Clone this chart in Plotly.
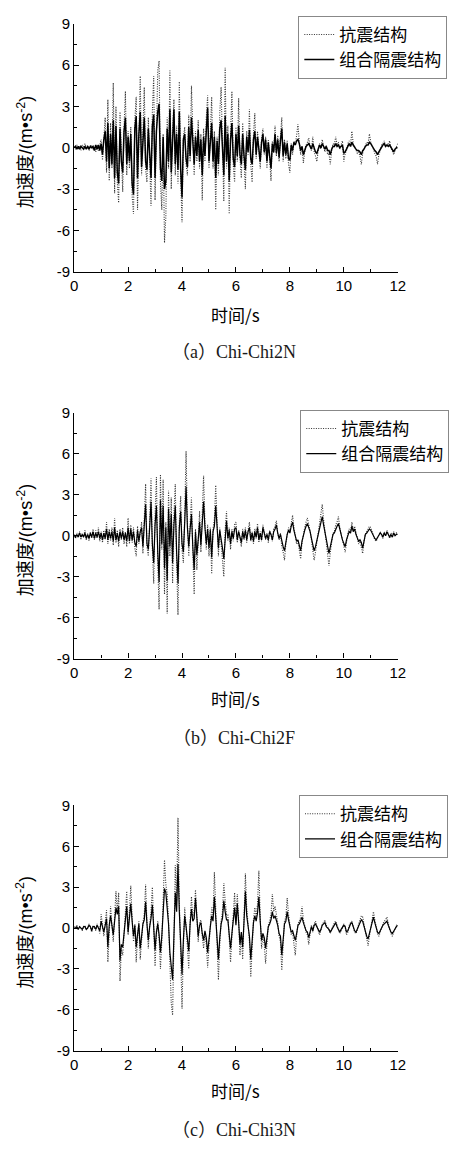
import plotly.graph_objects as go

DT = 0.05  # sampling step of the digitised records (s)

# ---------------- panel (a) Chi-Chi2N ----------------
a_aseismic = [
 0.1,-0.1,0.2,-0.1,0.1,-0.2,0.2,0.0,0.3,-0.1,0.2,-0.2,0.1,0.2,-0.1,0.1,-0.3,0.2,-0.2,0.3,
 0.6,-0.9,1.0,2.2,-1.8,3.5,-2.4,1.8,-1.5,4.7,-3.3,3.0,-2.5,-4.0,2.6,-1.2,-3.2,1.5,4.1,-2.0,
 1.2,-1.5,1.5,-3.5,-4.8,2.0,3.7,-4.5,1.5,5.2,-2.0,1.0,4.4,-1.6,-2.5,2.2,-1.4,-4.2,2.6,5.2,
 -3.8,2.0,5.6,6.3,-2.5,-4.5,1.0,-6.9,-5.0,2.2,-1.5,5.6,-3.0,1.2,3.5,-2.0,1.6,-2.6,4.8,-2.2,
 -5.4,0.8,1.5,-1.2,-2.0,2.4,-1.0,4.5,0.6,-2.0,1.2,-1.0,2.0,-1.5,1.0,-3.8,1.4,-1.0,2.2,3.8,
 -1.5,1.0,3.7,-1.5,1.2,-4.5,0.8,-2.0,2.5,4.4,-1.0,-3.9,5.8,-1.5,1.6,-4.8,1.0,4.1,-1.2,-2.5,
 1.5,-1.0,3.6,-0.8,-2.2,1.8,-1.0,-3.0,1.2,-0.5,2.8,-1.2,-2.5,1.0,2.5,-0.8,1.2,-0.6,-1.5,0.6,
 1.4,-0.5,0.8,-1.5,0.6,-0.8,-2.4,0.5,-0.4,1.6,-0.6,0.9,-1.0,0.8,2.2,-1.0,0.6,-0.8,0.5,-1.2,
 -1.8,0.3,-0.5,0.5,0.2,0.9,1.7,0.4,-0.5,0.1,-1.1,-0.3,0.2,0.4,0.7,0.1,-0.2,0.8,-0.3,-0.6,
 -1.0,-0.2,0.3,-0.1,0.6,0.1,-0.3,0.2,-0.5,-0.4,-1.2,-0.2,0.3,0.2,0.8,0.2,0.4,-0.1,0.2,0.5,
 -1.0,-0.4,-0.2,0.3,0.5,0.2,1.2,0.3,0.1,-0.2,-0.4,-0.3,-0.6,-1.2,-0.4,-0.1,0.2,0.4,0.3,1.0,
 0.4,0.2,-0.1,-0.4,-0.6,-1.2,-0.5,-0.2,0.2,0.3,0.5,0.1,0.3,0.2,0.5,0.0,-0.3,-0.5,-0.2,0.1,
 0.3]
a_isolated = [
 0.0,0.1,-0.1,0.1,-0.1,0.1,0.0,-0.1,0.1,-0.1,0.1,-0.1,0.1,0.0,0.1,-0.2,0.2,-0.1,0.2,-0.2,
 0.3,-0.5,0.6,1.2,-1.0,1.8,-1.5,1.0,-1.2,2.0,-2.2,1.6,-1.8,-2.6,1.4,-1.0,-1.8,1.2,2.2,-1.2,
 0.8,-1.0,1.0,-2.6,-3.4,1.4,2.3,-2.2,1.0,2.6,-1.4,0.8,2.2,-1.0,-1.6,1.4,-1.0,-2.2,1.6,2.4,
 -2.2,1.2,2.6,3.2,-1.5,-2.4,0.8,-3.0,-2.4,1.4,-1.0,2.8,-1.8,0.8,2.8,-1.2,1.0,-1.6,2.6,-1.6,
 -3.6,0.6,1.0,-0.8,-1.4,1.5,-0.6,2.2,0.4,-1.2,0.8,-0.6,1.3,-1.0,0.6,-2.0,0.8,-0.6,1.2,2.9,
 -1.0,0.6,1.8,-1.0,0.8,-2.2,0.5,-1.2,1.4,2.0,-0.6,-2.0,2.3,-1.0,1.0,-2.4,0.6,1.8,-0.8,-1.4,
 1.0,-0.6,1.6,-0.5,-1.2,1.0,-0.6,-1.6,0.8,-0.3,1.3,-0.8,-1.2,0.6,1.2,-0.5,0.8,-0.4,-1.0,0.4,
 1.0,-0.3,0.6,-1.0,0.4,-0.6,-1.5,0.3,-0.3,1.0,-0.4,0.6,-0.7,0.5,1.4,-0.6,0.4,-0.5,0.3,-0.8,
 -0.9,0.2,-0.2,0.4,0.2,0.5,0.6,0.3,-0.2,0.1,-0.5,-0.2,0.1,0.2,0.3,0.1,-0.1,0.3,-0.1,-0.3,
 -0.4,-0.1,0.2,0.0,0.3,0.1,-0.1,0.1,-0.2,-0.2,-0.5,-0.1,0.1,0.1,0.3,0.1,0.2,0.0,0.1,0.2,
 -0.4,-0.3,-0.1,0.1,0.3,0.1,0.4,0.2,0.0,-0.1,-0.2,-0.2,-0.3,-0.5,-0.2,-0.1,0.1,0.2,0.2,0.4,
 0.3,0.1,0.0,-0.2,-0.3,-0.5,-0.3,-0.1,0.1,0.2,0.3,0.1,0.2,0.1,0.2,0.0,-0.2,-0.3,-0.1,0.0,
 0.0]

# ---------------- panel (b) Chi-Chi2F ----------------
b_aseismic = [
 0.1,-0.2,0.2,-0.1,0.3,-0.3,0.2,-0.1,0.4,-0.3,0.2,-0.4,0.3,-0.2,0.5,-0.3,0.4,-0.2,0.6,-0.4,
 0.3,-0.5,0.4,-0.3,1.0,-0.6,0.5,-0.4,0.6,-0.7,1.3,-0.5,0.4,-0.8,0.5,-0.3,0.6,-0.6,0.3,-0.8,
 1.3,-0.6,0.8,-0.5,0.6,-0.9,-1.5,0.7,-0.6,0.4,1.0,-1.3,1.2,3.8,-0.8,-1.5,1.0,4.2,-1.0,-3.5,
 1.5,4.3,-2.0,-5.4,4.5,-1.0,4.1,-4.3,1.0,-5.7,3.3,-1.5,2.8,-3.5,1.5,3.8,-2.0,-5.8,1.0,2.9,
 -1.0,-2.0,1.5,6.2,1.0,-1.5,0.8,2.8,-1.2,-4.3,0.5,-2.5,-0.5,1.8,-1.2,1.5,4.4,1.0,-1.0,0.8,
 -1.5,0.6,-2.8,0.5,1.2,3.7,0.4,-1.5,0.6,-0.8,-1.5,-3.0,0.4,1.8,-0.4,0.6,-1.0,0.5,-0.4,0.8,
 1.0,-0.5,0.4,-0.3,-0.8,0.5,-0.3,0.6,-0.5,0.4,1.0,-0.4,0.3,-0.6,0.5,-0.2,0.9,-0.5,0.3,-0.4,
 0.8,0.3,-0.3,0.2,-0.5,0.4,0.1,-0.4,0.5,0.7,1.1,0.2,-0.3,0.2,-0.8,-1.2,-1.8,-0.6,0.2,0.6,
 0.3,1.0,1.5,0.6,-0.2,-0.6,-0.4,-1.0,-1.7,-0.5,0.2,0.6,1.0,1.3,0.8,0.4,-0.3,-1.0,-1.8,-1.2,
 -0.6,0.2,0.9,1.6,2.3,1.2,0.4,-0.5,-1.3,-2.2,-1.2,-0.4,0.2,0.3,0.8,1.0,1.4,0.6,0.1,-0.4,
 -0.8,-1.2,-0.5,0.2,0.5,0.3,1.0,0.4,0.7,0.2,-0.3,-0.6,-0.4,-0.8,-1.3,-0.4,0.1,0.3,0.5,0.7,
 0.6,0.3,-0.1,-0.3,-0.4,-0.2,0.1,0.3,0.1,-0.2,0.3,0.0,0.4,0.1,-0.2,0.2,-0.1,0.3,0.0,0.2,
 0.1]
b_isolated = [
 0.0,-0.1,0.1,-0.1,0.2,-0.1,0.1,-0.1,0.2,-0.2,0.1,-0.2,0.2,-0.1,0.3,-0.2,0.2,-0.1,0.3,-0.2,
 0.2,-0.3,0.2,-0.2,0.5,-0.3,0.3,-0.2,0.3,-0.4,0.6,-0.3,0.2,-0.4,0.3,-0.2,0.3,-0.3,0.2,-0.4,
 0.6,-0.4,0.5,-0.3,0.3,-0.5,-0.8,0.4,-0.4,0.3,0.6,-0.8,0.8,2.3,-0.6,-1.0,0.6,2.5,-0.6,-2.0,
 0.8,2.2,-1.2,-3.4,2.6,-0.6,2.2,-2.4,0.6,-3.3,2.0,-0.8,1.6,-2.0,0.8,2.2,-1.2,-3.5,0.6,1.8,
 -0.6,-1.2,1.0,3.6,0.6,-0.8,0.5,1.6,-0.8,-2.5,0.3,-1.4,-0.3,1.0,-0.7,0.9,2.5,0.6,-0.6,0.5,
 -0.9,0.4,-1.6,0.3,0.7,2.2,0.2,-0.9,0.4,-0.5,-0.9,-1.7,0.2,1.1,-0.2,0.4,-0.6,0.3,-0.2,0.5,
 0.6,-0.3,0.3,-0.2,-0.5,0.3,-0.2,0.4,-0.3,0.3,0.6,-0.3,0.2,-0.4,0.3,-0.1,0.6,-0.3,0.2,-0.3,
 0.6,0.2,-0.2,0.1,-0.3,0.3,0.1,-0.3,0.3,0.5,0.8,0.2,-0.2,0.1,-0.5,-0.8,-1.1,-0.4,0.1,0.4,
 0.2,0.7,1.0,0.4,-0.1,-0.4,-0.3,-0.7,-1.1,-0.4,0.1,0.4,0.7,0.9,0.6,0.3,-0.2,-0.7,-1.1,-0.8,
 -0.4,0.1,0.6,1.0,1.4,0.8,0.3,-0.3,-0.8,-1.3,-0.8,-0.3,0.1,0.2,0.5,0.7,0.9,0.4,0.1,-0.3,
 -0.5,-0.8,-0.3,0.1,0.3,0.2,0.7,0.3,0.5,0.1,-0.2,-0.4,-0.3,-0.5,-0.9,-0.3,0.1,0.2,0.4,0.5,
 0.4,0.2,-0.1,-0.2,-0.3,-0.1,0.1,0.2,0.1,-0.1,0.2,0.0,0.3,0.1,-0.1,0.1,-0.1,0.2,0.0,0.1,
 0.1]

# ---------------- panel (c) Chi-Chi3N ----------------
c_aseismic = [
 0.1,0.0,0.2,-0.1,0.1,0.0,-0.2,0.1,0.2,-0.1,0.0,0.3,0.1,-0.3,0.2,0.1,-0.2,0.3,0.0,-0.4,
 1.0,0.2,-0.6,0.4,1.3,-2.5,0.3,1.6,0.2,-1.0,0.8,2.7,1.2,2.6,-3.9,-1.5,-2.0,-0.5,1.0,2.7,
 -0.5,1.2,3.1,0.8,-1.0,0.3,-2.5,-0.8,0.5,-2.3,-0.6,0.4,1.0,3.2,0.4,-1.5,0.2,1.2,3.0,0.6,
 -2.8,-0.5,0.5,-0.8,-3.0,-1.0,1.5,5.0,3.2,2.5,0.5,-3.0,-5.5,-6.4,-1.0,4.6,2.0,8.1,2.0,-1.5,
 -5.9,-1.5,1.5,0.2,-1.2,-3.0,0.5,2.3,0.8,1.2,2.8,0.8,-1.0,0.4,0.6,-0.6,-1.5,-0.4,-1.2,-2.9,
 -1.0,0.2,1.5,0.8,4.1,1.0,-1.0,-3.8,-1.2,0.5,1.2,3.3,2.0,1.0,1.0,-0.8,-2.5,-0.6,1.0,2.6,
 0.4,2.5,0.6,-2.0,-0.5,-2.3,0.8,4.0,1.5,0.5,-1.0,-3.6,-1.2,0.6,1.5,0.8,1.8,4.2,0.8,-1.5,
 -0.6,-1.2,-2.6,-0.8,0.2,0.5,1.0,2.5,1.2,1.6,1.0,0.4,-0.6,-1.0,-3.1,-1.0,0.5,0.8,2.2,1.0,
 0.4,-0.5,-0.3,-1.0,-2.0,-0.6,0.3,0.5,0.8,1.6,0.6,0.2,-0.3,-0.5,-1.2,-0.4,0.2,-0.3,0.3,0.5,
 0.2,-0.2,-0.5,-0.2,0.3,0.4,0.6,0.2,0.1,-0.2,-0.4,-0.1,0.2,0.4,0.5,0.2,-0.2,-0.4,-0.2,0.1,
 0.3,0.1,-0.5,-0.3,0.2,0.4,0.5,0.1,-0.3,-0.4,-0.2,0.3,0.6,0.9,0.8,0.2,-0.4,-0.9,-1.3,-0.6,
 0.1,0.5,1.2,0.6,0.0,-0.4,-0.6,-0.3,0.1,0.3,0.5,0.6,0.8,0.3,-0.1,-0.4,-0.6,-0.3,0.0,0.2,
 0.3]
c_isolated = [
 0.0,0.0,0.1,-0.1,0.1,0.0,-0.1,0.1,0.1,-0.1,0.0,0.2,0.1,-0.2,0.1,0.1,-0.1,0.2,0.0,-0.2,
 0.5,0.1,-0.3,0.2,0.7,-1.4,0.2,0.9,0.1,-0.5,0.5,1.5,1.0,1.6,-2.4,-1.2,-1.4,-0.3,0.6,1.6,
 -0.3,0.8,1.8,0.5,-0.6,0.2,-1.4,-0.5,0.3,-1.5,-0.4,0.3,0.6,1.9,0.3,-0.9,0.1,0.7,1.7,0.4,
 -1.6,-0.3,0.3,-0.5,-1.8,-0.6,0.9,2.9,2.6,1.5,0.3,-1.8,-3.0,-3.8,-0.6,2.6,1.2,4.7,1.2,-0.9,
 -3.4,-0.9,0.9,0.1,-0.7,-1.7,0.3,1.4,0.5,0.7,2.2,0.5,-0.6,0.2,0.4,-0.4,-0.9,-0.2,-0.7,-1.8,
 -0.6,0.1,0.9,0.5,2.3,0.6,-0.6,-2.3,-0.7,0.3,0.7,2.0,1.2,0.6,0.6,-0.5,-1.5,-0.4,0.6,1.5,
 0.2,1.8,0.4,-1.2,-0.3,-1.4,0.5,2.7,0.9,0.3,-0.6,-2.3,-0.7,0.4,0.9,0.5,1.1,2.3,0.5,-0.9,
 -0.4,-0.7,-1.5,-0.5,0.1,0.3,0.6,1.2,0.7,0.9,0.6,0.2,-0.4,-0.6,-2.0,-0.6,0.3,0.5,1.2,0.6,
 0.2,-0.3,-0.2,-0.6,-0.9,-0.4,0.2,0.3,0.5,0.8,0.4,0.1,-0.2,-0.3,-0.7,-0.3,0.1,-0.2,0.2,0.3,
 0.1,-0.1,-0.3,-0.1,0.2,0.3,0.4,0.1,0.0,-0.1,-0.3,-0.1,0.1,0.3,0.4,0.1,-0.1,-0.3,-0.1,0.1,
 0.2,0.1,-0.3,-0.2,0.1,0.3,0.4,0.1,-0.2,-0.3,-0.1,0.2,0.4,0.6,0.5,0.1,-0.3,-0.6,-0.8,-0.4,
 0.1,0.4,0.8,0.4,0.0,-0.3,-0.4,-0.2,0.1,0.2,0.3,0.4,0.5,0.2,-0.1,-0.3,-0.4,-0.2,0.0,0.1,
 0.2]

series_names = ["抗震结构", "组合隔震结构"]
captions = ["（a）Chi-Chi2N", "（b）Chi-Chi2F", "（c）Chi-Chi3N"]
x_ticks = [0, 2, 4, 6, 8, 10, 12]
y_ticks = [-9, -6, -3, 0, 3, 6, 9]
y_ticktext = ["-9", "-6", "-3", "0", "3", "6", "9"]
x_title = "时间/s"
y_title = "加速度/(m•s<sup>-2</sup>)"

panels = [(a_aseismic, a_isolated), (b_aseismic, b_isolated), (c_aseismic, c_isolated)]
solid_widths = [1.5, 1.2, 1.2]

W, H = 472, 1152
def px(xp): return xp / W
def py(yp): return 1 - yp / H

# pixel geometry of the three plot areas (top, bottom) and legend boxes (left, top)
plot_left, plot_right = 72.0, 404.0
plot_tb = [(15.0, 266.7), (410.0, 659.3), (808.3, 1057.3)]
legend_pos = [(302.0, 7.0), (304.0, 407.0), (302.7, 798.0)]
xtitle_y = [310.0, 700.0, 1098.0]
caption_y = [348.0, 740.0, 1138.0]

CJK = "Noto Sans CJK SC"
fig = go.Figure()
annotations = []
for i, (dotted, solid) in enumerate(panels):
    k = "" if i == 0 else str(i + 1)
    xa, ya = "x" + k, "y" + k
    lg = "legend" + k
    t1 = [round(j * DT, 2) for j in range(len(dotted))]
    t2 = [round(j * DT, 2) for j in range(len(solid))]
    fig.add_trace(go.Scatter(x=t1, y=dotted, mode="lines", name=series_names[0],
                             line=dict(color="#333333", width=1.1, dash="1px,1.4px"),
                             xaxis=xa, yaxis=ya, legend=lg))
    fig.add_trace(go.Scatter(x=t2, y=solid, mode="lines", name=series_names[1],
                             line=dict(color="#000000", width=solid_widths[i]),
                             xaxis=xa, yaxis=ya, legend=lg))
    top, bot = plot_tb[i]
    fig.layout["xaxis" + k] = dict(
        domain=[px(plot_left), px(plot_right)], anchor=ya, range=[0, 12],
        tickvals=x_ticks, ticks="inside", ticklen=5, tickwidth=1, tickcolor="black",
        minor=dict(ticks="inside", ticklen=3, tickvals=[1, 3, 5, 7, 9, 11], tickcolor="black"),
        showline=True, linecolor="black", linewidth=1.3, showgrid=False, zeroline=False,
        tickfont=dict(family="Liberation Sans", size=15, color="black"))
    fig.layout["yaxis" + k] = dict(
        domain=[py(bot), py(top)], anchor=xa, range=[-9, 9],
        tickvals=y_ticks, ticktext=y_ticktext, ticks="inside", ticklen=5, tickwidth=1,
        tickcolor="black",
        minor=dict(ticks="inside", ticklen=3, tickvals=[-7.5, -4.5, -1.5, 1.5, 4.5, 7.5],
                   tickcolor="black"),
        showline=True, linecolor="black", linewidth=1.3, showgrid=False, zeroline=False,
        tickfont=dict(family="Liberation Sans", size=15, color="black"))
    lx, ly = legend_pos[i]
    fig.layout[lg] = dict(x=px(lx), y=py(ly), xanchor="left", yanchor="top",
                          bgcolor="white", bordercolor="#888888", borderwidth=1,
                          font=dict(family=CJK, size=17, color="black"),
                          tracegroupgap=0, itemwidth=30)
    annotations.append(dict(text=y_title, textangle=-90, x=px(22), y=py((top + bot) / 2 + 4),
                            xref="paper", yref="paper", xanchor="center", yanchor="middle",
                            showarrow=False,
                            font=dict(family="Liberation Sans, " + CJK, size=18, color="black")))
    annotations.append(dict(text=x_title, x=px((plot_left + plot_right) / 2), y=py(xtitle_y[i]),
                            xref="paper", yref="paper", xanchor="center", yanchor="middle",
                            showarrow=False,
                            font=dict(family=CJK, size=17, color="black")))
    annotations.append(dict(text=captions[i], x=px(236), y=py(caption_y[i]),
                            xref="paper", yref="paper", xanchor="center", yanchor="middle",
                            showarrow=False,
                            font=dict(family="Liberation Serif, " + CJK, size=18, color="#1a1a1a")))

fig.update_layout(width=W, height=H, margin=dict(l=0, r=0, t=0, b=0),
                  paper_bgcolor="white", plot_bgcolor="white",
                  showlegend=True, annotations=annotations)
fig.write_html("out.html")

# make sure the page itself adds no margin around the figure
with open("out.html", "r", encoding="utf-8") as f:
    html = f.read()
html = html.replace("<head>", "<head><style>html,body{margin:0;padding:0;}</style>", 1)
with open("out.html", "w", encoding="utf-8") as f:
    f.write(html)
